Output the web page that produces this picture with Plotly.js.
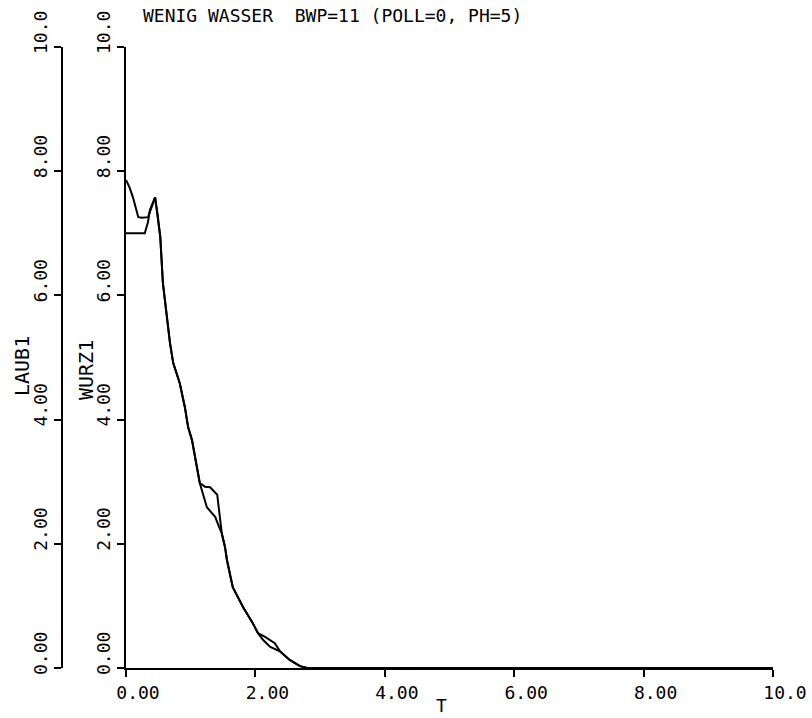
<!DOCTYPE html>
<html>
<head>
<meta charset="utf-8">
<script src="https://cdn.plot.ly/plotly-3.0.1.min.js"></script>
<style>html,body{margin:0;padding:0;background:#fff;}</style>
</head>
<body>
<div id="chart" style="width:812px;height:718px;"></div>
<script>
// Series LAUB1 (left axis)
const tLaub = [0, 0.05, 0.11, 0.19, 0.25, 0.34, 0.42, 0.45, 0.49, 0.53, 0.57, 0.63, 0.68, 0.73, 0.83, 0.91, 0.96, 1.02, 1.10, 1.14, 1.22, 1.30, 1.41, 1.45, 1.48, 1.53, 1.56, 1.65, 1.81, 1.96, 2.04, 2.12, 2.23, 2.38, 2.53, 2.69, 2.80, 4.00, 6.00, 8.00, 10.0];
const laub1 = [7.86, 7.75, 7.57, 7.26, 7.25, 7.26, 7.49, 7.58, 7.29, 6.94, 6.20, 5.65, 5.23, 4.91, 4.59, 4.20, 3.88, 3.67, 3.24, 2.98, 2.92, 2.91, 2.79, 2.38, 2.17, 1.95, 1.74, 1.30, 0.98, 0.72, 0.56, 0.45, 0.34, 0.27, 0.13, 0.03, 0, 0, 0, 0, 0];
// Series WURZ1 (right axis)
const tWurz = [0, 0.10, 0.20, 0.29, 0.34, 0.37, 0.45, 0.49, 0.53, 0.57, 0.63, 0.68, 0.73, 0.83, 0.91, 0.96, 1.02, 1.10, 1.14, 1.25, 1.38, 1.44, 1.48, 1.53, 1.56, 1.65, 1.81, 1.96, 2.04, 2.15, 2.30, 2.38, 2.53, 2.69, 2.80, 4.00, 6.00, 8.00, 10.0];
const wurz1 = [7.00, 7.00, 7.00, 7.00, 7.18, 7.38, 7.58, 7.29, 6.94, 6.20, 5.65, 5.23, 4.91, 4.59, 4.20, 3.88, 3.67, 3.24, 2.98, 2.59, 2.43, 2.27, 2.17, 1.95, 1.74, 1.30, 0.98, 0.72, 0.56, 0.50, 0.40, 0.27, 0.13, 0.03, 0, 0, 0, 0, 0];
// Tick labels
const xTickVals = [0, 2, 4, 6, 8, 10];
const xTickText = ['0.00', '2.00', '4.00', '6.00', '8.00', '10.0'];
const yTickVals = [0, 2, 4, 6, 8, 10];
const yTickText = ['0.00', '2.00', '4.00', '6.00', '8.00', '10.0'];
const titleText = 'WENIG WASSER\u00a0\u00a0BWP=11 (POLL=0, PH=5)';

const W = 812, H = 718;
const FONT = 'DejaVu Sans Mono, monospace';
const xDom = [126 / W, 773 / W];
const yDom = [1 - 668 / H, 1 - 47 / H];

const traces = [
  { x: tLaub, y: laub1, name: 'LAUB1', type: 'scatter', mode: 'lines', yaxis: 'y',
    line: { color: '#000', width: 2 } },
  { x: tWurz, y: wurz1, name: 'WURZ1', type: 'scatter', mode: 'lines', yaxis: 'y2',
    line: { color: '#000', width: 2 } }
];

const yCommon = {
  range: [0, 10], showline: true, linecolor: '#000', linewidth: 2,
  ticks: 'outside', ticklen: 7, tickwidth: 2, tickcolor: '#000',
  tickvals: yTickVals, ticktext: yTickText, tickangle: -90,
  tickfont: { family: FONT, size: 18, color: '#000' },
  ticklabelshift: -12, showgrid: false, zeroline: false, automargin: false
};

const layout = {
  width: W, height: H,
  margin: { l: 0, r: 0, t: 0, b: 0 },
  paper_bgcolor: '#fff', plot_bgcolor: '#fff',
  showlegend: false,
  title: { text: titleText, x: 143 / W, xanchor: 'left', xref: 'paper',
           y: 1 - 16 / H, yanchor: 'middle',
           font: { family: FONT, size: 18, color: '#000' } },
  xaxis: {
    domain: xDom, range: [0, 10], showline: true, linecolor: '#000', linewidth: 2,
    ticks: 'outside', ticklen: 7, tickwidth: 2, tickcolor: '#000',
    tickvals: xTickVals, ticktext: xTickText,
    tickfont: { family: FONT, size: 18, color: '#000' },
    ticklabelshift: 12, showgrid: false, zeroline: false, automargin: false,
    anchor: 'y2'
  },
  yaxis: Object.assign({}, yCommon, { domain: yDom, anchor: 'free', position: 62 / W, side: 'left' }),
  yaxis2: Object.assign({}, yCommon, { overlaying: 'y', anchor: 'x', side: 'left' }),
  annotations: [
    { text: 'LAUB1', xref: 'paper', yref: 'paper', x: 22 / W, y: 1 - 366 / H,
      textangle: -90, showarrow: false, xanchor: 'center', yanchor: 'middle',
      font: { family: FONT, size: 20, color: '#000' } },
    { text: 'WURZ1', xref: 'paper', yref: 'paper', x: 86 / W, y: 1 - 370 / H,
      textangle: -90, showarrow: false, xanchor: 'center', yanchor: 'middle',
      font: { family: FONT, size: 20, color: '#000' } },
    { text: 'T', xref: 'paper', yref: 'paper', x: 442 / W, y: 1 - 705 / H,
      showarrow: false, xanchor: 'center', yanchor: 'middle',
      font: { family: FONT, size: 18, color: '#000' } }
  ]
};

Plotly.newPlot('chart', traces, layout, { staticPlot: true, displayModeBar: false });
</script>
</body>
</html>
